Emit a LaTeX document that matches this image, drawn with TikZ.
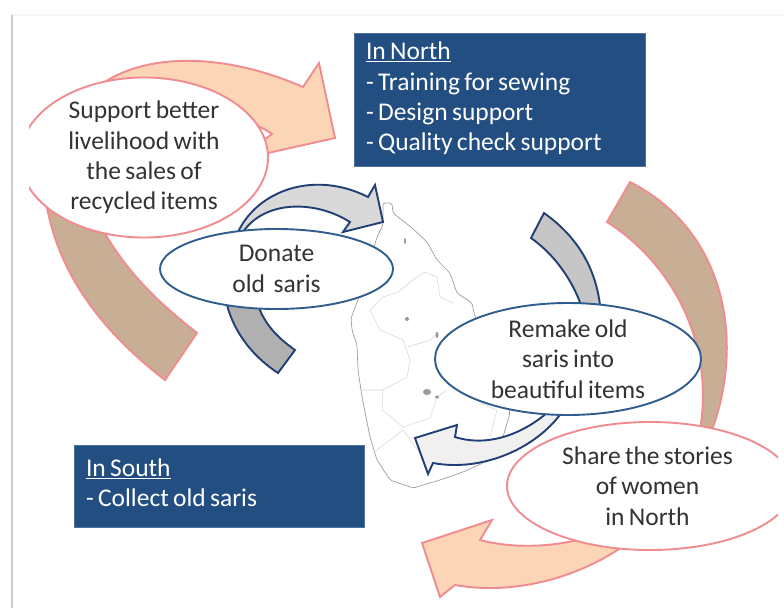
\documentclass[tikz,border=0pt]{standalone}
\usepackage{fontspec}
\setmainfont{Carlito}[WordSpace=0.75]
\usetikzlibrary{shapes.geometric, positioning}
\definecolor{sariPink}{HTML}{F08C8F}
\definecolor{sariPeach}{HTML}{FBD5B5}
\definecolor{sariBrown}{HTML}{C8AE94}
\definecolor{sariNavy}{HTML}{1F3F75}
\definecolor{sariBlue}{HTML}{2F5D8E}
\definecolor{sariBox}{HTML}{234E82}
\definecolor{sariText}{HTML}{333333}
\tikzset{
  pinkArrow/.style={draw=sariPink,line width=1.9pt,line join=miter},
  navyArrow/.style={draw=sariNavy,line width=1.9pt,line join=miter},
  pinkBubble/.style={ellipse,draw=sariPink,fill=white,line width=1.9pt,inner sep=-5pt,align=flush center,text=sariText,font=\fontsize{25.5}{30.4}\selectfont},
  navyBubble/.style={ellipse,draw=sariBlue,fill=white,line width=1.9pt,inner sep=-5pt,align=flush center,text=sariText,font=\fontsize{25.5}{30.4}\selectfont},
  regionBox/.style={rectangle,fill=sariBox,draw=sariBox!80!white,line width=0.6pt,inner sep=0,text=white,align=flush left,font=\fontsize{25.5}{30.4}\selectfont},
  coast/.style={draw=gray!75,line width=0.7pt},
  district/.style={draw=gray!30,line width=0.6pt},
  lake/.style={fill=gray!80}
}
\begin{document}
\begin{tikzpicture}[x=1pt,y=-1pt]
  \useasboundingbox (0,0) rectangle (784,608);
  \fill[white] (0,0) rectangle (784,608);
  % slide edge
  \draw[gray!8,line width=2pt] (12,15) -- (784,15);
  \draw[gray!40,line width=2.5pt] (12,15) -- (12,608);
  % map
  \draw[coast,fill=white,rounded corners=2pt] (383,203) -- (392,203) -- (393,213) -- (412,228) -- (427,242)
    -- (437,260) -- (450,273) -- (457,293) -- (472,303) -- (475,317) -- (495,360) -- (510,413)
    -- (503,437) -- (483,463) -- (463,472) -- (440,480) -- (413,488) -- (390,480) -- (377,460)
    -- (370,437) -- (362,397) -- (358,370) -- (357,345) -- (352,330) -- (351,318) -- (358,300)
    -- (377,237) -- (383,225) -- cycle;
  \draw[district] (370,310) -- (383,297) -- (398,292) -- (413,280) -- (425,272) -- (437,277) -- (440,297) -- (453,303);
  \draw[district] (370,310) -- (380,330) -- (403,340) -- (410,360) -- (407,377) -- (383,390) -- (362,390);
  \draw[district] (383,390) -- (382,410) -- (403,427) -- (430,418) -- (437,397) -- (447,390);
  \draw[district] (408,347) -- (430,340) -- (438,333);
  \draw[district] (373,453) -- (403,430) -- (420,453);
  \draw[district] (480,403) -- (497,410) -- (490,437);
  \fill[lake] (405,241) ellipse (1pt and 3pt);
  \fill[lake] (407,319) ellipse (2pt and 2pt);
  \fill[lake] (437,335) ellipse (1.5pt and 3pt);
  \fill[lake] (427,392) ellipse (4pt and 3pt);
  \fill[lake] (437,397) ellipse (2pt and 1.5pt);
  % pink cycle
  \draw[pinkArrow,fill=sariPeach] (100,85) .. controls (150,50) and (230,55) .. (303,87) -- (319,63) -- (335,138)
    -- (250,157) -- (250,150) -- (272,134) .. controls (250,118) and (200,105) .. (100,100) -- cycle;
  \draw[pinkArrow,fill=sariBrown] (45,195) .. controls (55,270) and (100,330) .. (165,380) -- (197,333)
    .. controls (155,300) and (125,270) .. (100,225) -- cycle;
  \draw[pinkArrow,fill=sariBrown] (630,182) -- (607,222) .. controls (670,262) and (715,340) .. (700,430)
    -- (712,430) .. controls (745,340) and (725,230) .. (630,182) -- cycle;
  \draw[pinkArrow,fill=sariPeach] (625,545) .. controls (575,580) and (510,595) .. (455,585) -- (440,597)
    -- (422,543) -- (492,520) -- (480,540) .. controls (510,548) and (550,548) .. (585,538) -- cycle;
  % blue cycle
  \draw[navyArrow,fill=gray!30] (238,232) .. controls (258,190) and (315,170) .. (368,197) -- (375,185) -- (383,222)
    -- (343,232) -- (350,222) .. controls (315,200) and (265,200) .. (243,232) -- cycle;
  \draw[navyArrow,fill=gray!62] (227,305) .. controls (235,335) and (255,358) .. (278,373) -- (295,350)
    .. controls (278,338) and (265,325) .. (258,305) -- cycle;
  \draw[navyArrow,fill=gray!45] (544,213) -- (531,238) .. controls (555,255) and (572,280) .. (581,305)
    -- (600,305) .. controls (595,265) and (575,235) .. (544,213) -- cycle;
  \draw[navyArrow,fill=gray!12] (548,412) .. controls (525,432) and (490,448) .. (455,437) -- (457,425) -- (415,438)
    -- (428,474) -- (433,463) .. controls (480,472) and (535,450) .. (562,412) -- cycle;
  % bubbles
  \node[navyBubble,minimum width=233pt,minimum height=80pt] (donate) at (276.5,269) {Donate\\old\ \ saris};
  \node[navyBubble,minimum width=266pt,minimum height=112pt] (remake) at (568,359) {Remake old\\saris into\\beautiful items};
  \begin{scope}
    \clip (29,0) rectangle (778,608);
    \node[pinkBubble,minimum width=248pt,minimum height=160pt] (support) at (144,157.5) {Support better\\livelihood with\\the sales of\\recycled items};
    \node[pinkBubble,minimum width=286pt,minimum height=128pt] (share) at (650,486) {\hspace*{-5pt}Share the stories\\\hspace*{-5pt}of women\\\hspace*{-5pt}in North};
  \end{scope}
  % boxes
  \node[regionBox,minimum width=291pt,minimum height=133pt,text width=267pt] (north) at (499.5,99.5) {\underline{In North}\\- Training for sewing\\- Design support\\- Quality check support\par\vspace*{2pt}};
  \node[regionBox,minimum width=290pt,minimum height=82pt,text width=266pt] (south) at (219,486) {\underline{In South}\\- Collect old saris\par\vspace*{6pt}};
\end{tikzpicture}
\end{document}
